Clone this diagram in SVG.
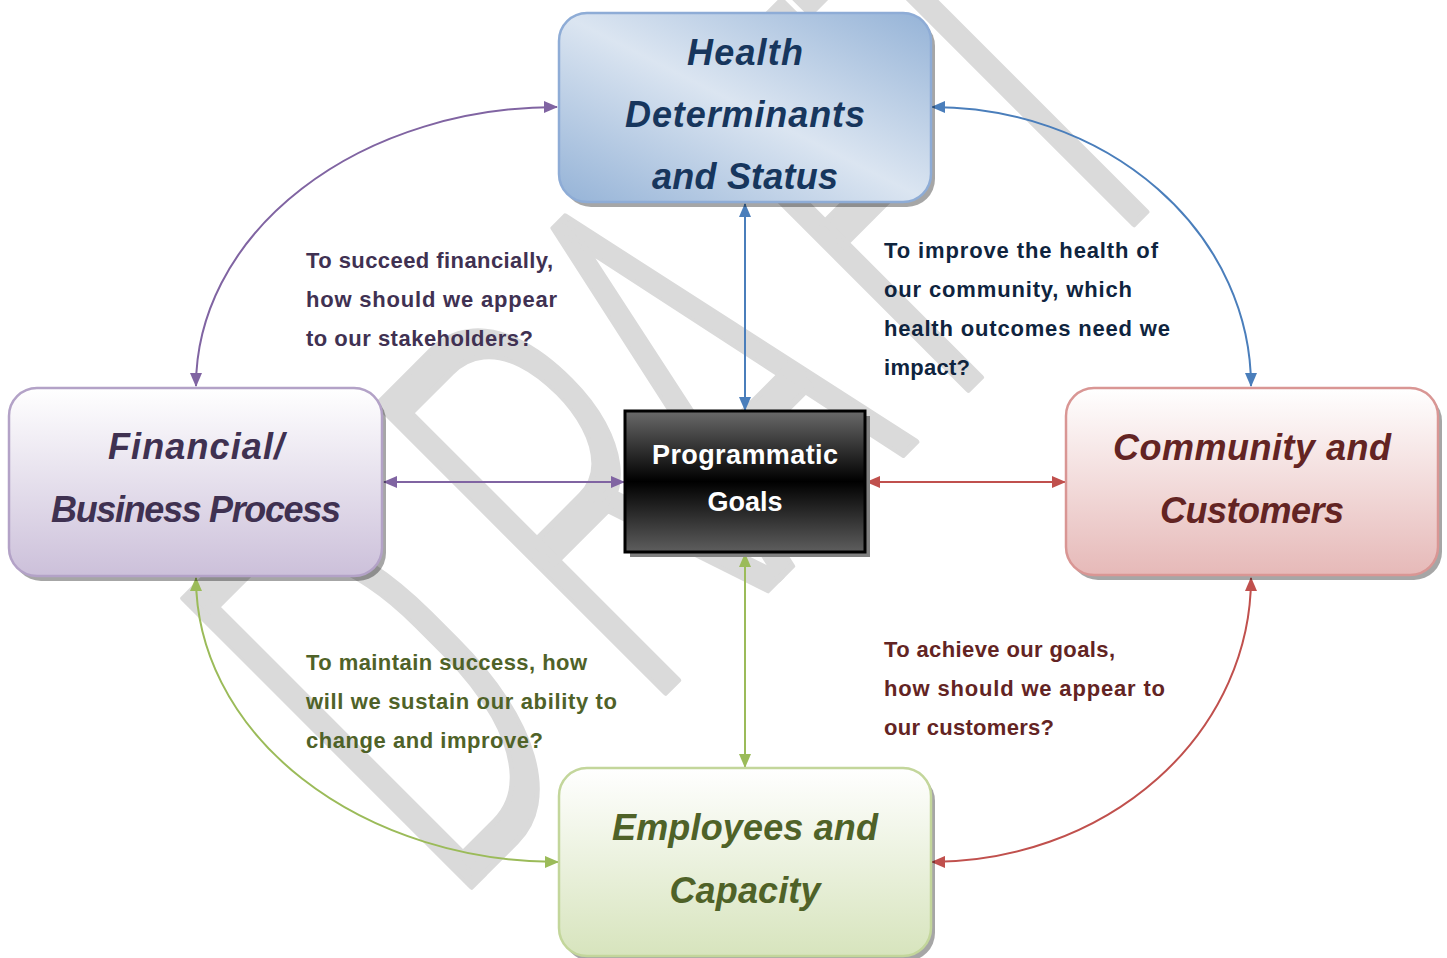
<svg xmlns="http://www.w3.org/2000/svg" width="1447" height="958" viewBox="0 0 1447 958">
<defs>
<style>
.title{font-family:"Liberation Sans",Arial,sans-serif;font-weight:bold;font-style:italic;font-size:36px;text-anchor:middle}
.q{font-family:"Liberation Sans",Arial,sans-serif;font-weight:bold;font-size:22px}
.conn{fill:none;stroke-width:2}
.shadow{fill:#000;opacity:0.35}
</style>
<linearGradient id="gBlue" x1="1" y1="0" x2="0" y2="1">
<stop offset="0" stop-color="#95b3d7"/>
<stop offset="0.5" stop-color="#dbe5f1"/>
<stop offset="1" stop-color="#95b3d7"/>
</linearGradient>
<linearGradient id="gPurple" x1="0" y1="0" x2="0" y2="1">
<stop offset="0" stop-color="#ffffff"/>
<stop offset="1" stop-color="#ccc0da"/>
</linearGradient>
<linearGradient id="gRed" x1="0" y1="0" x2="0" y2="1">
<stop offset="0" stop-color="#ffffff"/>
<stop offset="1" stop-color="#e6b9b8"/>
</linearGradient>
<linearGradient id="gGreen" x1="0" y1="0" x2="0" y2="1">
<stop offset="0" stop-color="#ffffff"/>
<stop offset="1" stop-color="#d7e4bd"/>
</linearGradient>
<linearGradient id="gBlack" x1="0" y1="0" x2="0" y2="1">
<stop offset="0" stop-color="#6a6a6a"/>
<stop offset="0.5" stop-color="#000000"/>
<stop offset="1" stop-color="#5e5e5e"/>
</linearGradient>
<marker id="mBlue" viewBox="0 0 14 12" refX="13" refY="6" markerWidth="14" markerHeight="12" orient="auto-start-reverse" markerUnits="userSpaceOnUse"><path d="M0,0 L14,6 L0,12 z" fill="#4a7ebb"/></marker>
<marker id="mPurple" viewBox="0 0 14 12" refX="13" refY="6" markerWidth="14" markerHeight="12" orient="auto-start-reverse" markerUnits="userSpaceOnUse"><path d="M0,0 L14,6 L0,12 z" fill="#8064a2"/></marker>
<marker id="mRed" viewBox="0 0 14 12" refX="13" refY="6" markerWidth="14" markerHeight="12" orient="auto-start-reverse" markerUnits="userSpaceOnUse"><path d="M0,0 L14,6 L0,12 z" fill="#c0504d"/></marker>
<marker id="mGreen" viewBox="0 0 14 12" refX="13" refY="6" markerWidth="14" markerHeight="12" orient="auto-start-reverse" markerUnits="userSpaceOnUse"><path d="M0,0 L14,6 L0,12 z" fill="#9bbb59"/></marker>
</defs>
<rect width="1447" height="958" fill="#ffffff"/>
<g id="watermark">
<text transform="translate(470,888) rotate(-45) scale(0.576,1)" x="-50 427 748 1170 1474" y="0" font-family="Roboto, Lato, 'Liberation Sans', sans-serif" font-weight="300" font-size="573" fill="#dadada" stroke="#dadada" stroke-width="6" stroke-linejoin="round">DRAFT</text>
</g>
<g id="connectors">
<path class="conn" stroke="#8064a2" d="M196,386 A361,279 0 0 1 557,107" marker-start="url(#mPurple)" marker-end="url(#mPurple)"/>
<path class="conn" stroke="#4a7ebb" d="M932,107 A319,279 0 0 1 1251,386" marker-start="url(#mBlue)" marker-end="url(#mBlue)"/>
<path class="conn" stroke="#c0504d" d="M1251,578 A320,284 0 0 1 932,862" marker-start="url(#mRed)" marker-end="url(#mRed)"/>
<path class="conn" stroke="#9bbb59" d="M196,578 A363,284 0 0 0 558,862" marker-start="url(#mGreen)" marker-end="url(#mGreen)"/>
<path class="conn" stroke="#4a7ebb" d="M745,204 L745,410" marker-start="url(#mBlue)" marker-end="url(#mBlue)"/>
<path class="conn" stroke="#8064a2" d="M384,482 L624,482" marker-start="url(#mPurple)" marker-end="url(#mPurple)"/>
<path class="conn" stroke="#c0504d" d="M867,482 L1065,482" marker-start="url(#mRed)" marker-end="url(#mRed)"/>
<path class="conn" stroke="#9bbb59" d="M745,554 L745,767" marker-start="url(#mGreen)" marker-end="url(#mGreen)"/>
</g>
<g id="node-health">
<rect class="shadow" x="563" y="18" width="372" height="189" rx="28"/>
<rect x="559" y="13" width="372" height="189" rx="28" fill="url(#gBlue)" stroke="#8eacd6" stroke-width="2.5"/>
<text class="title" fill="#17365d" x="745" y="65" textLength="116" lengthAdjust="spacing">Health</text>
<text class="title" fill="#17365d" x="745" y="127" textLength="240" lengthAdjust="spacing">Determinants</text>
<text class="title" fill="#17365d" x="745" y="189" textLength="186" lengthAdjust="spacing">and Status</text>
</g>
<g id="node-financial">
<rect class="shadow" x="13" y="393" width="373" height="188" rx="28"/>
<rect x="9" y="388" width="373" height="188" rx="28" fill="url(#gPurple)" stroke="#b3a2c7" stroke-width="2.5"/>
<text class="title" fill="#3f3151" x="196" y="459" textLength="176" lengthAdjust="spacing">Financial/</text>
<text class="title" fill="#3f3151" x="196" y="522" textLength="290" lengthAdjust="spacing">Business Process</text>
</g>
<g id="node-community">
<rect class="shadow" x="1070" y="393" width="372" height="187" rx="28"/>
<rect x="1066" y="388" width="372" height="187" rx="28" fill="url(#gRed)" stroke="#d99694" stroke-width="2.5"/>
<text class="title" fill="#632423" x="1252" y="460" textLength="278" lengthAdjust="spacing">Community and</text>
<text class="title" fill="#632423" x="1252" y="523" textLength="184" lengthAdjust="spacing">Customers</text>
</g>
<g id="node-employees">
<rect class="shadow" x="563" y="773" width="372" height="188" rx="28"/>
<rect x="559" y="768" width="372" height="188" rx="28" fill="url(#gGreen)" stroke="#c3d69b" stroke-width="2.5"/>
<text class="title" fill="#4f6228" x="745" y="840" textLength="266" lengthAdjust="spacing">Employees and</text>
<text class="title" fill="#4f6228" x="745" y="903" textLength="151" lengthAdjust="spacing">Capacity</text>
</g>
<g id="node-goals">
<rect x="630" y="416" width="240" height="141" fill="#808080"/>
<rect x="625" y="411" width="240" height="141" fill="url(#gBlack)" stroke="#000" stroke-width="3"/>
<text x="745" y="464" font-family="Liberation Sans, Arial, sans-serif" font-weight="bold" font-size="27" fill="#ffffff" text-anchor="middle" textLength="186" lengthAdjust="spacing">Programmatic</text>
<text x="745" y="511" font-family="Liberation Sans, Arial, sans-serif" font-weight="bold" font-size="27" fill="#ffffff" text-anchor="middle">Goals</text>
</g>
<g id="label-financial">
<text class="q" fill="#403152" x="306" y="268" textLength="247" lengthAdjust="spacing">To succeed financially,</text>
<text class="q" fill="#403152" x="306" y="307" textLength="251" lengthAdjust="spacing">how should we appear</text>
<text class="q" fill="#403152" x="306" y="346" textLength="227" lengthAdjust="spacing">to our stakeholders?</text>
</g>
<g id="label-health">
<text class="q" fill="#0f243e" x="884" y="258" textLength="274" lengthAdjust="spacing">To improve the health of</text>
<text class="q" fill="#0f243e" x="884" y="297" textLength="248" lengthAdjust="spacing">our community, which</text>
<text class="q" fill="#0f243e" x="884" y="336" textLength="286" lengthAdjust="spacing">health outcomes need we</text>
<text class="q" fill="#0f243e" x="884" y="375" textLength="86" lengthAdjust="spacing">impact?</text>
</g>
<g id="label-employees">
<text class="q" fill="#4f6228" x="306" y="670" textLength="281" lengthAdjust="spacing">To maintain success, how</text>
<text class="q" fill="#4f6228" x="306" y="709" textLength="311" lengthAdjust="spacing">will we sustain our ability to</text>
<text class="q" fill="#4f6228" x="306" y="748" textLength="237" lengthAdjust="spacing">change and improve?</text>
</g>
<g id="label-community">
<text class="q" fill="#632423" x="884" y="657" textLength="231" lengthAdjust="spacing">To achieve our goals,</text>
<text class="q" fill="#632423" x="884" y="696" textLength="281" lengthAdjust="spacing">how should we appear to</text>
<text class="q" fill="#632423" x="884" y="735" textLength="170" lengthAdjust="spacing">our customers?</text>
</g>
</svg>
